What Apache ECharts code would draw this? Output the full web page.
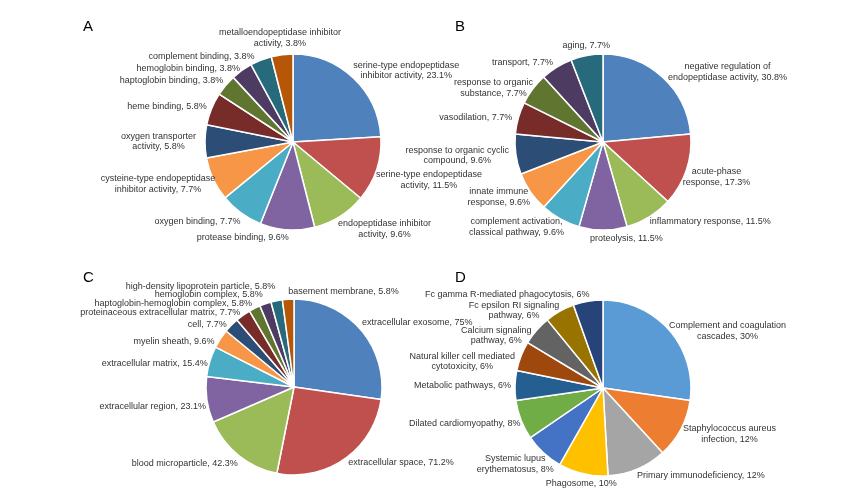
<!DOCTYPE html>
<html>
<head>
<meta charset="utf-8">
<script src="https://cdn.jsdelivr.net/npm/echarts@6/dist/echarts.min.js"></script>
<style>html,body{margin:0;padding:0;background:#fff;}#c{width:867px;height:495px;}</style>
</head>
<body>
<div id="c"></div>
<script>
// ---- data ----
const namesA = ['serine-type endopeptidase\ninhibitor activity','serine-type endopeptidase\nactivity','endopeptidase inhibitor\nactivity','protease binding','oxygen binding','cysteine-type endopeptidase\ninhibitor activity','oxygen transporter\nactivity','heme binding','haptoglobin binding','hemoglobin binding','complement binding','metalloendopeptidase inhibitor\nactivity'];
const valuesA = [23.1,11.5,9.6,9.6,7.7,7.7,5.8,5.8,3.8,3.8,3.8,3.8];

const namesB = ['negative regulation of\nendopeptidase activity','acute-phase\nresponse','inflammatory response','proteolysis','complement activation,\nclassical pathway','innate immune\nresponse','response to organic cyclic\ncompound','vasodilation','response to organic\nsubstance','transport','aging'];
const valuesB = [30.8,17.3,11.5,11.5,9.6,9.6,9.6,7.7,7.7,7.7,7.7];

const namesC = ['extracellular exosome','extracellular space','blood microparticle','extracellular region','extracellular matrix','myelin sheath','cell','proteinaceous extracellular matrix','haptoglobin-hemoglobin complex','hemoglobin complex','high-density lipoprotein particle','basement membrane'];
const valuesC = [75,71.2,42.3,23.1,15.4,9.6,7.7,7.7,5.8,5.8,5.8,5.8];

const namesD = ['Complement and coagulation\ncascades','Staphylococcus aureus\ninfection','Primary immunodeficiency','Phagosome','Systemic lupus\nerythematosus','Dilated cardiomyopathy','Metabolic pathways','Natural killer cell mediated\ncytotoxicity','Calcium signaling\npathway','Fc epsilon RI signaling\npathway','Fc gamma R-mediated phagocytosis'];
const valuesD = [30,12,12,10,8,8,6,6,6,6,6];

const panelLetters = ['A','B','C','D'];

// ---- styling / label placement config ----
const pal2010 = ['#4F81BD','#C0504D','#9BBB59','#8064A2','#4BACC6','#F79646','#2C4D75','#772C2A','#5F7530','#4D3B62','#276A7C','#B65708'];
const pal2013 = ['#5B9BD5','#ED7D31','#A5A5A5','#FFC000','#4472C4','#70AD47','#255E91','#9E480E','#636363','#997300','#264478'];

const lenA = [10,14,15,8,11,12,4,5,7,3,4,17];
const lenB = [7,12,5,13,9,9,8,1,2,5,10];
const lenC = [10,4,8,4,1,1,2,3,6,11,17,30];
const lenD = [2,8,7,10,10,6,1,1,0,3,9];

// [dx, dy, align override, relative-to-slice-centre flag]
const nudgeA = [[-12,0],[-19,6],[-15,0],[7,0],[11,0],[18,0],[0,0],[5,0],[8,0],[5,0],[0,0],[66,0]];
const nudgeB = [[-4,0],[-20,3],[-7,0],[-13,-4,'left',true],[13,0],[12,0],[6,0],[0,0],[7,0],[4,0],[30,0]];
const nudgeC = [[-11,0],[-4,0],[9,2],[8,6],[4,2],[0,3],[2,1],[4,0],[5,1],[6,1],[7,2],[7,22,'left']];
const nudgeD = [[-7,2],[-10,1],[-8,0],[41,0],[22,4],[10,1],[2,0],[0,6],[0,5],[6,2],[8,2]];

const FONT = 'Liberation Sans, Arial, sans-serif';

function mk(names, vals, colors, lens){
  return names.map((n,i)=>({name:n, value:vals[i], itemStyle:{color:colors[i]}, labelLine:{show:false, length:lens[i], length2:0}}));
}

function fmt(p){
  const lines = p.name.split('\n');
  lines[lines.length-1] += ', ' + p.value + '%';
  return lines.map(l => '{t|' + l + '}').join('\n');
}

function pie(data, center, nudges, lh){
  return {
    type:'pie', radius:88, center:center, startAngle:90, clockwise:true,
    avoidLabelOverlap:false,
    data: data,
    itemStyle:{borderColor:'#fff', borderWidth:1.5},
    label:{show:true, position:'outside', formatter:fmt, distanceToLabelLine:5,
      rich:{t:{align:'center', fontFamily:FONT, fontSize:9, color:'#333', lineHeight:lh}}},
    labelLine:{show:false},
    labelLayout:function(p){
      const n = nudges[p.dataIndex];
      if(!n) return {};
      const o = {};
      if(n[3]){
        o.x = p.rect.x + p.rect.width/2 + n[0];
        o.y = p.labelRect.y + p.labelRect.height/2 + n[1];
      } else {
        o.dx = n[0]; o.dy = n[1];
      }
      if(n[2]) o.align = n[2];
      return o;
    },
    emphasis:{scale:false, disabled:true}, animation:false, silent:true
  };
}

const chart = echarts.init(document.getElementById('c'));
chart.setOption({
  backgroundColor:'#fff',
  animation:false,
  title:[
    {text:panelLetters[0], left:78, top:14},
    {text:panelLetters[1], left:450, top:14},
    {text:panelLetters[2], left:78, top:265},
    {text:panelLetters[3], left:450, top:265}
  ].map(t=>Object.assign(t,{textStyle:{fontFamily:FONT, fontSize:15, fontWeight:'normal', color:'#000'}})),
  series:[
    pie(mk(namesA,valuesA,pal2010,lenA), [293,142], nudgeA, 10.5),
    pie(mk(namesB,valuesB,pal2010,lenB), [603,142], nudgeB, 10.5),
    pie(mk(namesC,valuesC,pal2010,lenC), [294,387], nudgeC, 9),
    pie(mk(namesD,valuesD,pal2013,lenD), [603,388], nudgeD, 10.5)
  ]
});
</script>
</body>
</html>
